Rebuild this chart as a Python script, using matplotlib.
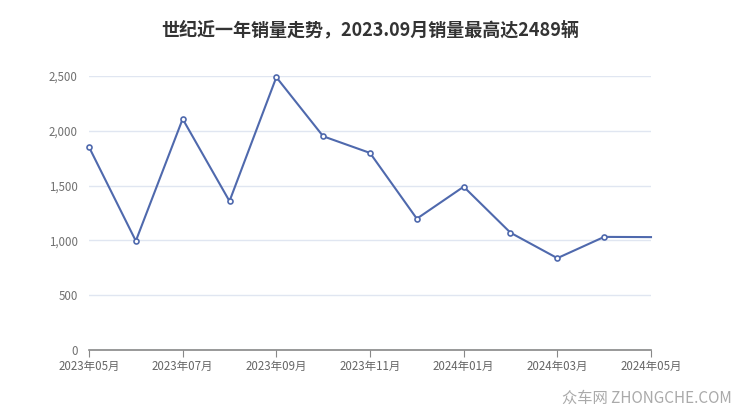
import matplotlib
matplotlib.use('Agg')
import matplotlib.pyplot as plt

plt.rcParams['font.family'] = ['Noto Sans CJK SC', 'DejaVu Sans']

months = ['2023年05月', '2023年06月', '2023年07月', '2023年08月', '2023年09月', '2023年10月',
          '2023年11月', '2023年12月', '2024年01月', '2024年02月', '2024年03月', '2024年04月',
          '2024年05月']
sales = [1852, 995, 2108, 1358, 2489, 1950, 1798, 1198, 1490, 1070, 838, 1032, 1030]
yticks = [0, 500, 1000, 1500, 2000, 2500]

fig = plt.figure(figsize=(7.4, 4.17), dpi=100)
ax = fig.add_axes([89 / 740, 67 / 417, 562 / 740, 274 / 417])

x = list(range(len(months)))
line_color = '#4f69ad'
ax.plot(x, sales, color=line_color, lw=1.5, zorder=3, clip_on=False)
ax.plot(x[:-1], sales[:-1], 'o', ms=3.6, mfc='white', mec=line_color, mew=1.2,
        zorder=4, clip_on=False)

ax.set_xlim(0, len(months) - 1)
ax.set_ylim(0, 2500)
ax.set_yticks(yticks)
ax.set_yticklabels([f'{v:,}' for v in yticks])
ax.set_xticks(x[::2])
ax.set_xticklabels(months[::2])

ax.grid(axis='y', color='#e0e6f1', lw=1)
ax.set_axisbelow(True)
for s in ['top', 'right', 'left']:
    ax.spines[s].set_visible(False)
ax.spines['bottom'].set_color('#888888')
ax.spines['bottom'].set_linewidth(1.2)
ax.tick_params(axis='y', length=0, labelsize=8.3, labelcolor='#707070', pad=8)
ax.tick_params(axis='x', length=5, color='#888888', labelsize=8.3, labelcolor='#666666', pad=2)

fig.text(0.5, 1 - 30 / 417, '世纪近一年销量走势，2023.09月销量最高达2489辆',
         ha='center', va='center', fontsize=13, fontweight='bold', color='#333333')
fig.text(1 - 8 / 740, 1 - 398 / 417, '众车网 ZHONGCHE.COM', ha='right', va='center',
         fontsize=11, color='#aaaaaa')

fig.savefig('out.png', dpi=100)
